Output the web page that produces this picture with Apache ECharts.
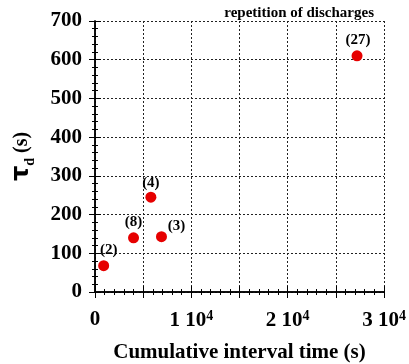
<!DOCTYPE html>
<html><head><meta charset="utf-8">
<script src="https://cdn.jsdelivr.net/npm/echarts@6/dist/echarts.min.js"></script>
<style>html,body{margin:0;padding:0;background:#fff}#c{width:409px;height:364px}</style>
</head><body><div id="c"></div>
<script>
const xValues = [900, 4000, 5800, 6900, 27200];
const yValues = [68, 140, 245, 143, 610];
const pointLabels = ['(2)', '(8)', '(4)', '(3)', '(27)'];
const xTickLabels = {0: '0', 10000: '1 10^4', 20000: '2 10^4', 30000: '3 10^4'};
const titleText = 'repetition of discharges';
const xName = 'Cumulative interval time (s)';

const font = 'Liberation Serif';
const labelOffsets = [[5, 0], [0, 0], [0, 2], [15, 5], [1, 0]];
const chart = echarts.init(document.getElementById('c'), null, {renderer: 'canvas'});
const data = xValues.map((x, i) => ({value: [x, yValues[i]], label: {formatter: pointLabels[i], offset: labelOffsets[i]}}));
const axisLine = {show: true, lineStyle: {color: '#000', width: 1.5}};
const split = {show: true, lineStyle: {color: '#222', type: [2, 2], width: 1}};
const tick = {show: true, inside: true, length: 6, lineStyle: {color: '#000'}};
const minor = {show: true, splitNumber: 5, length: 3, lineStyle: {color: '#000'}};
chart.setOption({
  animation: false,
  title: {text: titleText, right: 30, top: 1, textStyle: {fontFamily: font, fontWeight: 'bold', fontSize: 15, color: '#000'}},
  grid: {left: 95, right: 25, top: 21, bottom: 72, containLabel: false, outerBoundsMode: 'none'},
  xAxis: [{
    type: 'value', min: 0, max: 30000, interval: 5000,
    axisLine, axisTick: tick, minorTick: minor, splitLine: split,
    axisLabel: {
      margin: 17, fontFamily: font, fontWeight: 'bold', fontSize: 21, color: '#000',
      formatter: v => {
        const t = xTickLabels[v];
        if (t === undefined) return '';
        if (t.indexOf('^') < 0) return t;
        const p = t.split('^');
        return p[0] + '{sup|' + p[1] + '}';
      },
      rich: {sup: {fontFamily: font, fontWeight: 'bold', fontSize: 14, color: '#000', verticalAlign: 'bottom', padding: [0, 0, 10, 0]}}
    },
    name: xName, nameLocation: 'middle', nameGap: 50,
    nameTextStyle: {fontFamily: font, fontWeight: 'bold', fontSize: 21, color: '#000'}
  }, {
    type: 'value', position: 'top', min: 0, max: 30000, interval: 5000,
    axisLine, axisTick: tick, minorTick: minor,
    splitLine: {show: false}, axisLabel: {show: false}
  }],
  yAxis: [{
    type: 'value', min: 0, max: 700, interval: 100,
    axisLine, axisTick: tick, minorTick: minor, splitLine: split,
    axisLabel: {margin: 13, fontFamily: font, fontWeight: 'bold', fontSize: 21, color: '#000'},
    name: '{t|τ}{s|d}{n| (s)}', nameLocation: 'middle', nameGap: 58, nameRotate: 90,
    nameTextStyle: {
      rich: {
        t: {fontFamily: 'DejaVu Sans', fontWeight: 'bold', fontSize: 24, color: '#000'},
        s: {fontFamily: font, fontWeight: 'bold', fontSize: 14, color: '#000', verticalAlign: 'top', padding: [16, 0, 0, 0]},
        n: {fontFamily: font, fontWeight: 'bold', fontSize: 20, color: '#000'}
      }
    }
  }, {
    type: 'value', position: 'right', min: 0, max: 700, interval: 100,
    axisLine, axisTick: tick, minorTick: minor,
    splitLine: {show: false}, axisLabel: {show: false}
  }],
  series: [{
    type: 'scatter', data, symbolSize: 11,
    itemStyle: {color: '#e60000', opacity: 1},
    label: {show: true, position: 'top', distance: 3, fontFamily: font, fontWeight: 'bold', fontSize: 15, color: '#000'}
  }]
});
</script></body></html>
